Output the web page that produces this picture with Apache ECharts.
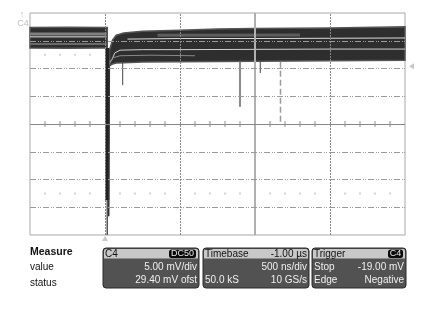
<!DOCTYPE html>
<html><head><meta charset="utf-8">
<script src="https://cdn.jsdelivr.net/npm/echarts@6/dist/echarts.min.js"></script>
<style>html,body{margin:0;padding:0;background:#fff}#c{width:436px;height:311px}</style>
</head><body><div id="c"></div>
<script>
// time in µs, voltage in mV
const timeMin = -1, timeMax = 4;
const voltMin = -49.4, voltMax = -9.4;
const centerVolt = -29.4;
const triggerLevel = -19.0;
const triggerTime = 0;
const dottedTimes = [0, 1, 3];
const solidTimes = [2];
const gridVolts = [-14.4, -19.4, -24.4, -34.4, -39.4, -44.4];
const dotRowVolts = [-16.9, -41.9];
const minorTicks = [-0.8,-0.6,-0.4,-0.2,0.2,0.4,0.6,0.8,1.2,1.4,1.6,1.8,2.2,2.4,2.6,2.8,3.2,3.4,3.6,3.8];

// envelope of the persistence trace
const preTimes = [-1, -0.5, 0, 0.03];
const preUpper = [-12.0, -11.95, -12.0, -12.0];
const preLower = [-15.7, -15.75, -15.7, -15.7];
const postTimes = [0.06, 0.1, 0.15, 0.25, 0.5, 1.0, 1.5, 2.0, 3.0, 4.0];
const postUpper = [-16.1, -14.3, -13.4, -13.0, -12.7, -12.5, -12.3, -12.2, -12.1, -11.9];
const postLower = [-18.9, -18.6, -18.4, -18.35, -18.25, -18.2, -18.15, -18.1, -18.0, -17.9];

// brighter inner traces
const preLightTimes = [-1, 0.02];
const preLightVolts = [-13.7, -13.7];
const preGrayVolts = [-13.2, -13.2];
const preGray2Volts = [-15.0, -15.0];
const postWhiteTimes = [0.3, 1.0, 2.0, 3.0, 4.0];
const postWhiteVolts = [-14.1, -14.0, -14.0, -13.95, -13.9];
const postWhite2Times = [0.06, 0.09, 0.13, 0.2, 0.5, 1.0, 2.0, 3.0, 4.0];
const postWhite2Volts = [-18.2, -17.9, -16.6, -16.1, -16.0, -16.0, -15.95, -15.9, -15.9];
const postGrayTimes = [0.7, 1.5, 2.6];
const postGrayVolts = [-13.4, -13.4, -13.35];
const postGray2Times = [0.06, 0.1, 0.2, 0.6, 1.2];
const postGray2Volts = [-18.6, -17.5, -17.1, -17.0, -17.1];

// trigger edge drop
const dropTimes = [0.03, 0.03];
const dropVolts = [-15.7, -43.1];
const dropTailVolts = [-43.1, -49.4];
const recoverTimes = [0.05, 0.058];
const recoverVolts = [-46.0, -19.0];

// glitches below the trace
const spikeTimes = [0.236, 1.8, 2.07, 2.34];
const spikeTops = [-18.4, -18.2, -18.2, -18.2];
const spikeBottoms = [-22.4, -26.3, -20.2, -29.6];
const spikeColors = ['#444', '#8a8a8a', '#444', '#9a9a9a'];
const spikeWidths = [1, 2, 1, 1.5];
const spikeTypes = ['solid', 'solid', 'solid', 'dashed'];

// info panel texts
const measureLabels = ['Measure', 'value', 'status'];
const chHeader = ['C4', 'DC50'];
const chRows = ['5.00 mV/div', '29.40 mV ofst'];
const tbHeader = ['Timebase', '-1.00 µs'];
const tbRows = [['', '500 ns/div'], ['50.0 kS', '10 GS/s']];
const trHeader = ['Trigger', 'C4'];
const trRows = [['Stop', '-19.00 mV'], ['Edge', 'Negative']];

const zip = (a, b) => a.map((v, i) => [v, b[i]]);
const line = (data, color, width, type, z) => ({
  type: 'line', data, symbol: 'none', silent: true, animation: false, z: z || 3,
  lineStyle: { color, width, type: type || 'solid' }
});

const chart = echarts.init(document.getElementById('c'), null, { renderer: 'canvas' });

const bandSeries = {
  type: 'custom', silent: true, animation: false, z: 2,
  data: [[0, 0]],
  renderItem: function (params, api) {
    function poly(ts, up, lo) {
      const pts = [];
      for (let i = 0; i < ts.length; i++) pts.push(api.coord([ts[i], up[i]]));
      for (let i = ts.length - 1; i >= 0; i--) pts.push(api.coord([ts[i], lo[i]]));
      return { type: 'polygon', shape: { points: pts }, style: { fill: '#2e2e2e', stroke: '#555', lineWidth: 1.5 } };
    }
    return { type: 'group', children: [poly(preTimes, preUpper, preLower), poly(postTimes, postUpper, postLower)] };
  }
};

const gridLineSeries = {
  type: 'line', data: [], silent: true, animation: false, z: 1,
  markLine: {
    silent: true, symbol: 'none', label: { show: false }, animation: false,
    data: [
      ...dottedTimes.map(t => ({ xAxis: t, lineStyle: { color: '#888', width: 1, type: [2, 1] } })),
      ...solidTimes.map(t => ({ xAxis: t, lineStyle: { color: '#b0b0b0', width: 2, type: 'solid' } })),
      ...gridVolts.map(v => ({ yAxis: v, lineStyle: { color: '#9a9a9a', width: 1, type: [6, 2, 1, 1, 1, 2] } })),
      { yAxis: centerVolt, lineStyle: { color: '#888', width: 1, type: 'solid' } }
    ]
  }
};

const tickSeries = {
  type: 'scatter', silent: true, animation: false, z: 1,
  symbol: 'rect', symbolSize: [1, 6],
  itemStyle: { color: '#777' },
  data: minorTicks.map(t => [t, centerVolt])
};
const dotSeries = {
  type: 'scatter', silent: true, animation: false, z: 1,
  symbol: 'rect', symbolSize: [1, 2],
  itemStyle: { color: '#999' },
  data: dotRowVolts.flatMap(v => minorTicks.map(t => [t, v]))
};

const series = [
  gridLineSeries, tickSeries, dotSeries, bandSeries,
  line(zip(preLightTimes, preGrayVolts), '#808080', 3),
  line(zip(preLightTimes, preLightVolts), '#e6e6e6', 1),
  line(zip(preLightTimes, preGray2Volts), '#6a6a6a', 2),
  line(zip(postGrayTimes, postGrayVolts), '#5e5e5e', 3),
  line(zip(postWhiteTimes, postWhiteVolts), '#dcdcdc', 1),
  line(zip(postWhite2Times, postWhite2Volts), '#d0d0d0', 1),
  line(zip(postGray2Times, postGray2Volts), '#888', 1),
  line(zip(dropTimes, dropVolts), '#222', 4),
  line(zip(dropTimes, dropTailVolts), '#555', 1.5),
  line(zip(recoverTimes, recoverVolts), '#333', 1.5),
  ...spikeTimes.map((t, i) => line([[t, spikeTops[i]], [t, spikeBottoms[i]]], spikeColors[i], spikeWidths[i], spikeTypes[i]))
];

chart.setOption({
  animation: false,
  backgroundColor: '#fff',
  grid: { left: 30, top: 13, width: 375, height: 222, show: true, borderColor: '#a8a8a8', borderWidth: 1, backgroundColor: 'transparent' },
  xAxis: { type: 'value', min: timeMin, max: timeMax, show: false, splitLine: { show: false } },
  yAxis: { type: 'value', min: voltMin, max: voltMax, show: false, splitLine: { show: false } },
  series
});

const FONT = '"Liberation Sans", Arial, sans-serif';
function txt(text, x, y, opts) {
  opts = opts || {};
  const st = { text, font: (opts.bold ? 'bold ' : '') + (opts.size || 10) + 'px ' + FONT,
    fill: opts.fill || '#111', align: opts.align || 'left', verticalAlign: 'middle' };
  return { type: 'text', x, y, silent: true, z: 20, style: st };
}
function box(x0, x1, headerL, headerR, rows, badge) {
  const els = [
    { type: 'rect', z: 10, silent: true, shape: { x: x0, y: 248, width: x1 - x0, height: 40, r: 3 }, style: { fill: '#525252', stroke: '#2a2a2a', lineWidth: 1 } },
    { type: 'rect', z: 11, silent: true, shape: { x: x0 + 1, y: 249, width: x1 - x0 - 2, height: 9.5, r: [2, 2, 0, 0] }, style: { fill: '#c8c8c8' } },
    txt(headerL, x0 + 2, 253.8)
  ];
  if (badge) {
    const w = headerR.length * 6 + 3;
    els.push({ type: 'rect', z: 12, silent: true, shape: { x: x1 - 3 - w, y: 249.5, width: w, height: 8.5, r: 2.5 }, style: { fill: '#0a0a0a' } });
    els.push(txt(headerR, x1 - 3 - w / 2, 253.9, { fill: '#e8e8e8', align: 'center', size: 9 }));
  } else {
    els.push(txt(headerR, x1 - 2, 253.8, { align: 'right' }));
  }
  rows.forEach((r, i) => {
    const y = 267.5 + i * 12.5;
    if (r[0]) els.push(txt(r[0], x0 + 2, y, { fill: '#f0f0f0' }));
    if (r[1]) els.push(txt(r[1], x1 - 2, y, { fill: '#f0f0f0', align: 'right' }));
  });
  return els;
}

// trigger markers, placed through the axes
const pLevel = chart.convertToPixel({ gridIndex: 0 }, [timeMax, triggerLevel]);
const pTime = chart.convertToPixel({ gridIndex: 0 }, [triggerTime, voltMin]);

const graphics = [
  txt(measureLabels[0], 30, 252.5, { bold: true, size: 10.5 }),
  txt(measureLabels[1], 30, 267.5, { size: 10 }),
  txt(measureLabels[2], 30, 283, { size: 10 }),
  ...box(103, 199, chHeader[0], chHeader[1], chRows.map(r => ['', r]), true),
  ...box(203, 309, tbHeader[0], tbHeader[1], tbRows, false),
  ...box(312, 406, trHeader[0], trHeader[1], trRows, true),
  txt('↑', 22, 15, { fill: '#c0c0c0', size: 9, align: 'center' }),
  txt('C4', 23, 23.5, { fill: '#c0c0c0', size: 9, align: 'center' }),
  { type: 'polygon', silent: true, z: 20, shape: { points: [[pLevel[0] + 4, pLevel[1]], [pLevel[0] + 9, pLevel[1] - 3], [pLevel[0] + 9, pLevel[1] + 3]] }, style: { fill: '#c8c8c8' } },
  { type: 'polygon', silent: true, z: 20, shape: { points: [[pTime[0], pTime[1] + 1], [pTime[0] - 3, pTime[1] + 6], [pTime[0] + 3, pTime[1] + 6]] }, style: { fill: '#c8c8c8' } }
];
chart.setOption({ graphic: { elements: graphics } });
</script></body></html>
